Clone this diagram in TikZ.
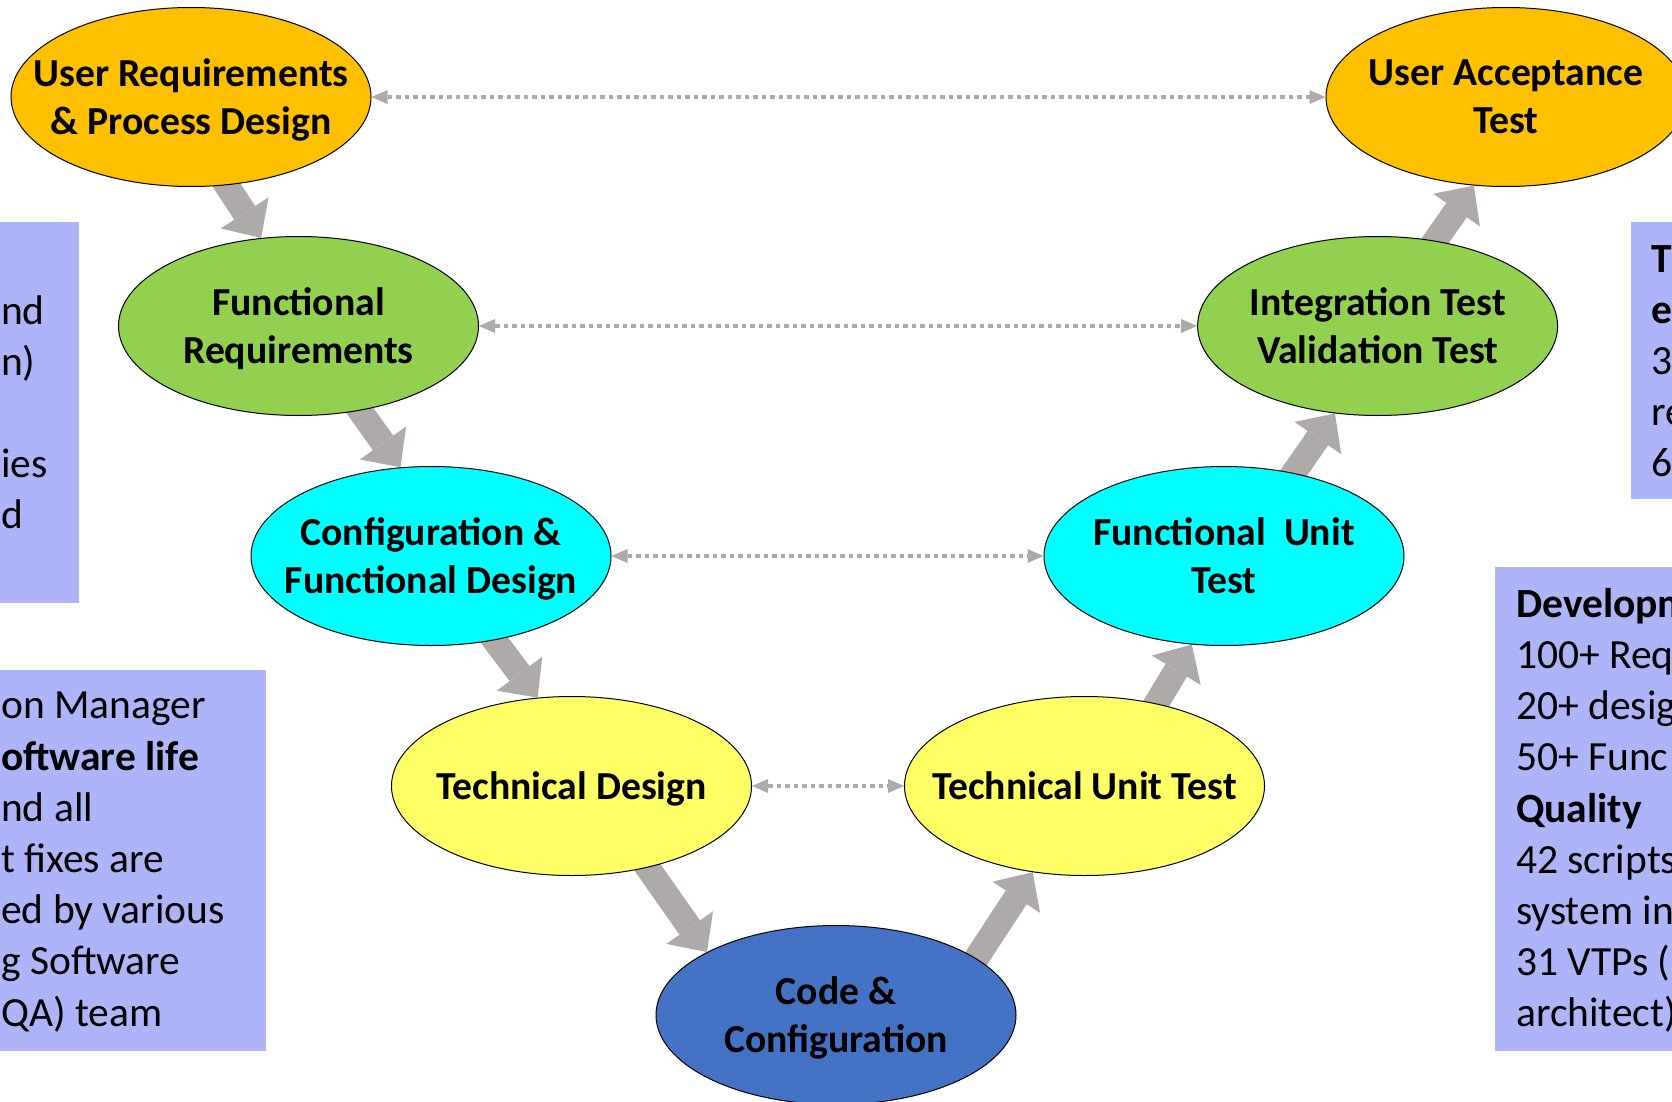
\documentclass[tikz,border=0pt]{standalone}
\usepackage{fontspec}
\setmainfont{Carlito}
\usetikzlibrary{shapes.geometric,arrows.meta,backgrounds}
\definecolor{reqorange}{HTML}{FFC000}
\definecolor{reqgreen}{HTML}{92D050}
\definecolor{designcyan}{HTML}{00FFFF}
\definecolor{techyellow}{HTML}{FFFF66}
\definecolor{codeblue}{HTML}{4472C4}
\definecolor{linkgray}{HTML}{AEAAAA}
\definecolor{notelilac}{HTML}{ADB4F7}

\begin{document}
\begin{tikzpicture}[x=1pt,y=-1pt,
  phase/.style={draw,shape=ellipse,line width=1pt,minimum width=360pt,minimum height=179pt,inner xsep=-60pt,inner ysep=-20pt,text depth=0pt,align=center,font=\bfseries\fontsize{39.7}{48}\selectfont},
  flow/.style={draw=linkgray,line width=25pt,-{Triangle[width=57pt,length=30pt,line width=0pt]},shorten <=-30pt},
  trace/.style={draw=linkgray,line width=3.5pt,dash pattern=on 4.5pt off 4pt,{Triangle[width=14pt,length=16pt,line width=0pt]}-{Triangle[width=14pt,length=16pt,line width=0pt]}},
  notebox/.style={fill=notelilac,shape=rectangle,inner sep=0pt,anchor=north west},
  notetext/.style={align=left,inner sep=0pt,anchor=north west,font=\fontsize{41.5}{51.2}\selectfont}]
\useasboundingbox (0,0) rectangle (1672,1102);

% side notes
\node (boxlt) [notebox,minimum width=99pt,minimum height=381pt] at (-20,222) {};
\node (boxlb) [notebox,minimum width=286pt,minimum height=381pt] at (-20,670) {};
\node (boxrt) [notebox,minimum width=100pt,minimum height=277pt] at (1631,222) {};
\node (boxrb) [notebox,minimum width=200pt,minimum height=484pt] at (1495,567) {};
\node (notelt) [notetext] at (1,295) {nd\\n)\\\mbox{}\\ies\\d};
\node (notelb) [notetext] at (1,692) {on Manager\\\textbf{oftware life}\\nd all\\t fixes are\\ed by various\\g Software\\QA) team};
\node (notert) [notetext] at (1651,245) {\textbf{T}\\\textbf{e}\\3\\re\\6};
\node (noterb) [notetext] at (1516,588) {\textbf{Developm}\\100+ Req\\20+ desig\\50+ Func\\\textbf{Quality}\\42 scripts\\system in\\31 VTPs (\\architect)};

% phases
\node (ur) [phase,fill=reqorange] at (191,97) {User Requirements\\\& Process Design};
\node (fr) [phase,fill=reqgreen] at (298.5,326) {Functional\\Requirements};
\node (cfd) [phase,fill=designcyan] at (431,556) {Configuration \&\\Functional Design};
\node (td) [phase,fill=techyellow] at (571.5,786) {Technical Design};
\node (cc) [phase,fill=codeblue] at (836,1015) {Code \&\\Configuration};
\node (tut) [phase,fill=techyellow] at (1084.5,786) {Technical Unit Test};
\node (fut) [phase,fill=designcyan] at (1224,556) {Functional\ \ Unit\\Test};
\node (it) [phase,fill=reqgreen] at (1377.6,326) {Integration Test\\Validation Test};
\node (uat) [phase,fill=reqorange] at (1506,97) {User Acceptance\\Test};

\begin{scope}[on background layer]
\draw[flow] (ur.-68) -- (fr.113);
\draw[flow] (fr.-54) -- (cfd.109);
\draw[flow] (cfd.-53) -- (td.111);
\draw[flow] (td.-47) -- (cc.154);
\draw[flow] (cc.22) -- (tut.-121);
\draw[flow] (tut.49) -- (fut.-110);
\draw[flow] (fut.50) -- (it.-116);
\draw[flow] (it.56) -- (uat.-110);
\end{scope}

\draw[trace] (ur) -- (uat);
\draw[trace] (fr) -- (it);
\draw[trace] (cfd) -- (fut);
\draw[trace] (td) -- (tut);

\end{tikzpicture}
\end{document}
